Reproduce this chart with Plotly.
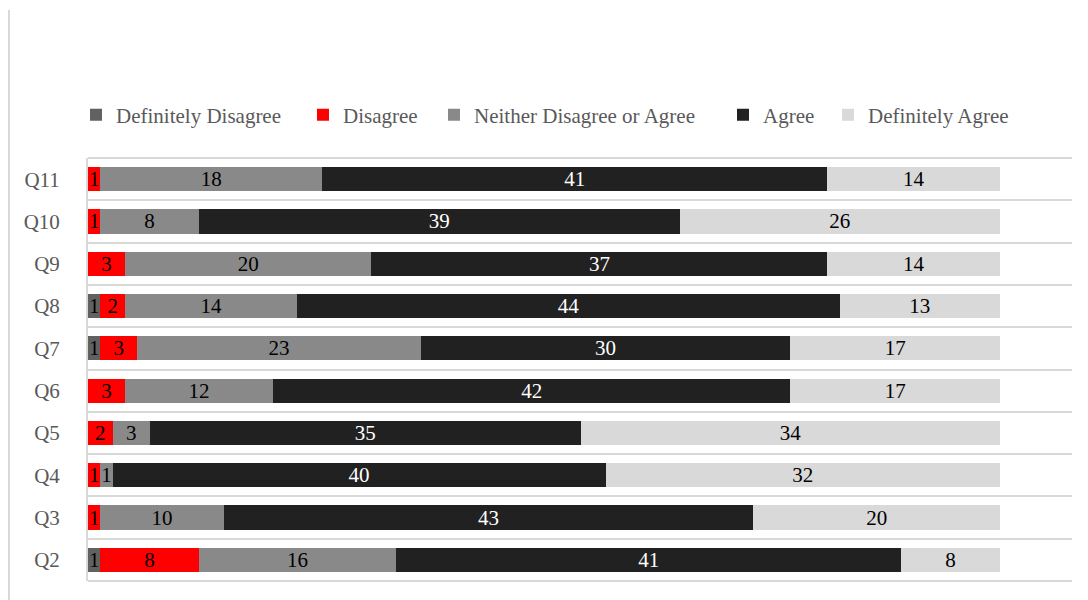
import plotly.graph_objects as go

questions = ["Q11", "Q10", "Q9", "Q8", "Q7", "Q6", "Q5", "Q4", "Q3", "Q2"]
definitely_disagree = [0, 0, 0, 1, 1, 0, 0, 0, 0, 1]
disagree = [1, 1, 3, 2, 3, 3, 2, 1, 1, 8]
neither = [18, 8, 20, 14, 23, 12, 3, 1, 10, 16]
agree = [41, 39, 37, 44, 30, 42, 35, 40, 43, 41]
definitely_agree = [14, 26, 14, 13, 17, 17, 34, 32, 20, 8]

series = [
    ("Definitely Disagree", definitely_disagree, "#616161", "black"),
    ("Disagree", disagree, "#FF0000", "black"),
    ("Neither Disagree or Agree", neither, "#898989", "black"),
    ("Agree", agree, "#212121", "white"),
    ("Definitely Agree", definitely_agree, "#D9D9D9", "black"),
]

FONT = "Liberation Serif, Times New Roman, serif"
W, H = 1088, 600
ML, MR, MT, MB = 88, 16, 158, 19
PW = W - ML - MR
PH = H - MT - MB

legend_text_x = [116, 343, 474, 763, 868]
legend_y_px = 115

fig = go.Figure()
layout_legends = {}
for i, (name, vals, color, tcolor) in enumerate(series):
    lg = "legend" if i == 0 else f"legend{i+1}"
    fig.add_trace(go.Bar(
        y=questions, x=vals, name=name, orientation="h",
        marker=dict(color=color, line=dict(width=0)),
        text=[str(v) if v else "" for v in vals],
        textposition="inside", insidetextanchor="middle",
        textangle=0, constraintext="none",
        textfont=dict(family=FONT, size=21, color=tcolor),
        hoverinfo="skip", legend=lg, showlegend=True,
    ))
    layout_legends[lg] = dict(
        x=(legend_text_x[i] - 40 - ML) / PW,
        y=(H - MB - legend_y_px) / PH,
        xanchor="left", yanchor="middle",
        orientation="h",
        font=dict(family=FONT, size=21, color="#595959"),
        bgcolor="rgba(0,0,0,0)", borderwidth=0,
        itemclick=False, itemdoubleclick=False,
    )

line_style = dict(color="#D9D9D9", width=2)
fig.update_layout(
    width=W, height=H,
    barmode="stack", bargap=0.43,
    plot_bgcolor="white", paper_bgcolor="white",
    margin=dict(l=ML, r=MR, t=MT, b=MB, pad=0),
    font=dict(family=FONT, size=21, color="#595959"),
    uniformtext=dict(minsize=21, mode="show"),
    xaxis=dict(range=[0, 79.85], showticklabels=False, showgrid=False,
               zeroline=False, showline=False, fixedrange=True),
    yaxis=dict(type="category", autorange="reversed", tickson="boundaries",
               showgrid=True, gridcolor="#D9D9D9", gridwidth=2,
               showline=True, linecolor="#D9D9D9", linewidth=2,
               ticks="", ticklabelstandoff=22,
               tickfont=dict(family=FONT, size=21, color="#595959")),
    shapes=[
        dict(type="line", xref="paper", yref="paper",
             x0=(9 - ML) / PW, x1=(9 - ML) / PW,
             y0=(H - MB - 10) / PH, y1=(H - MB - 600) / PH, line=line_style),
        dict(type="line", xref="paper", yref="paper", x0=0, x1=1, y0=1, y1=1,
             line=line_style),
        dict(type="line", xref="paper", yref="paper", x0=0, x1=1, y0=0, y1=0,
             line=line_style),
    ],
    **layout_legends,
)

fig.write_html("out.html")
